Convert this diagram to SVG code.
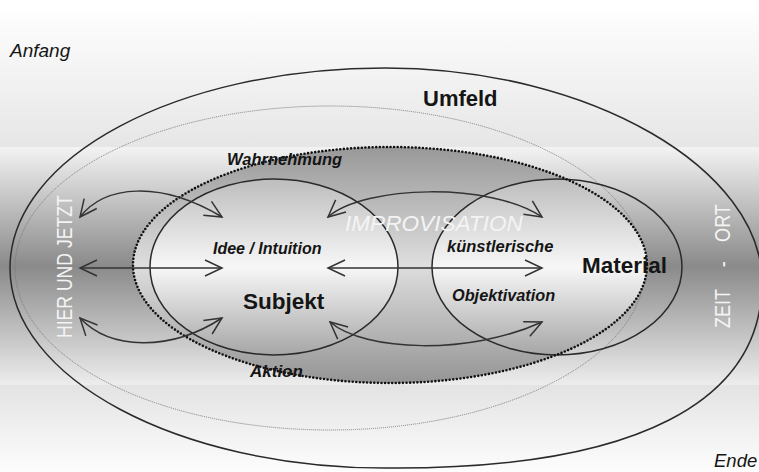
<svg xmlns="http://www.w3.org/2000/svg" width="759" height="472" viewBox="0 0 759 472">
<style>
.txt{font-family:"Liberation Sans",Arial,sans-serif;fill:#151515}
.bi{font-weight:bold;font-style:italic}
.b{font-weight:bold}
.i{font-style:italic}
.w{fill:#f4f4f4}
.line{fill:none;stroke:#2a2a2a;stroke-width:1.5}
.arr{fill:none;stroke:#333;stroke-width:1.5;marker-start:url(#ah);marker-end:url(#ah)}
</style>
<defs>
<linearGradient id="gTop" x1="0" y1="0" x2="0" y2="1"><stop offset="0" stop-color="#fefefe"/><stop offset="1" stop-color="#e6e6e6"/></linearGradient>
<linearGradient id="gMid" x1="0" y1="0" x2="0" y2="1"><stop offset="0" stop-color="#f3f3f3"/><stop offset="0.5" stop-color="#8a8a8a"/><stop offset="1" stop-color="#ededed"/></linearGradient>
<linearGradient id="gBot" x1="0" y1="0" x2="0" y2="1"><stop offset="0" stop-color="#e3e3e3"/><stop offset="1" stop-color="#fdfdfd"/></linearGradient>
<linearGradient id="gDot" x1="0" y1="0" x2="0" y2="1"><stop offset="0" stop-color="#989898"/><stop offset="0.5" stop-color="#dedede"/><stop offset="1" stop-color="#959595"/></linearGradient>
<linearGradient id="gIn" x1="0" y1="0" x2="0" y2="1"><stop offset="0" stop-color="#bdbdbd"/><stop offset="0.5" stop-color="#f7f7f7"/><stop offset="1" stop-color="#a6a6a6"/></linearGradient>
<clipPath id="cDot"><ellipse cx="390" cy="265" rx="257" ry="118"/></clipPath>
<marker id="ah" viewBox="-20 -10 22 20" refX="0" refY="0" markerWidth="22" markerHeight="20" markerUnits="userSpaceOnUse" orient="auto-start-reverse">
<path d="M-17,-8 L0,0 L-17,8" fill="none" stroke="#333" stroke-width="1.5"/>
</marker>
</defs>

<g id="background">
<rect x="0" y="0" width="759" height="472" fill="#ffffff"/>
<rect x="0" y="10" width="759" height="137" fill="url(#gTop)"/>
<rect x="0" y="147" width="759" height="238" fill="url(#gMid)"/>
<rect x="0" y="385" width="759" height="87" fill="url(#gBot)"/>
</g>

<g id="umfeld">
<path class="line" d="M10,268 C10,157 177,68 385,68 C592,68 762,170 762,282 C762,400 640,470 385,468 C178,468 10,378 10,268 Z"/>
<text class="txt b" x="423" y="106" font-size="22">Umfeld</text>
</g>

<g id="grenze">
<ellipse cx="330" cy="268" rx="315" ry="162" fill="none" stroke="#7a7a7a" stroke-width="1" stroke-dasharray="1 1"/>
</g>

<g id="improvisation">
<ellipse cx="390" cy="265" rx="257" ry="118" fill="url(#gDot)"/>
</g>

<g id="subjekt">
<ellipse cx="274" cy="267" rx="124" ry="88" fill="url(#gIn)" stroke="#2a2a2a" stroke-width="1.5"/>
<text class="txt bi" x="213" y="254" font-size="16">Idee / Intuition</text>
<text class="txt b" x="243" y="309" font-size="22.5">Subjekt</text>
</g>

<g id="material">
<ellipse cx="557" cy="267" rx="125" ry="88" fill="url(#gIn)" clip-path="url(#cDot)"/>
<ellipse cx="557" cy="267" rx="125" ry="88" fill="none" stroke="#2a2a2a" stroke-width="1.5"/>
<text class="txt b" x="582" y="273" font-size="22.5">Material</text>
</g>

<g id="improvisation-rand">
<ellipse cx="390" cy="265" rx="257" ry="118" fill="none" stroke="#111" stroke-width="2.6" stroke-linecap="round" stroke-dasharray="0 3.6"/>
<text class="txt bi" x="227" y="165" font-size="16.5">Wahrnehmung</text>
<text class="txt bi" x="250" y="377" font-size="17">Aktion</text>
<text class="txt i w" x="345" y="231" font-size="22.6">IMPROVISATION</text>
<text class="txt bi" x="447" y="252" font-size="16.5">künstlerische</text>
<text class="txt bi" x="452" y="301" font-size="16.3">Objektivation</text>
</g>

<g id="connectors">
<path class="arr" d="M80,217 C105,185 160,180 222,217"/>
<path class="arr" d="M80,268 L222,268"/>
<path class="arr" d="M80,318 C110,350 170,352 222,318"/>
<path class="arr" d="M328,217 C365,185 490,182 542,217"/>
<path class="arr" d="M328,268 L542,268"/>
<path class="arr" d="M330,322 C365,352 470,355 542,322"/>
</g>

<g id="hier-und-jetzt">
<text class="txt w" font-size="22" transform="translate(72,338) rotate(-90) scale(0.8,1)">HIER UND JETZT</text>
</g>

<g id="zeit-ort">
<text class="txt w" font-size="22" transform="translate(730,328) rotate(-90) scale(0.82,1)"><tspan x="0">ZEIT</tspan><tspan x="74">-</tspan><tspan x="105">ORT</tspan></text>
</g>

<g id="anfang"><text class="txt i" x="10" y="57" font-size="19">Anfang</text></g>
<g id="ende"><text class="txt i" x="714" y="467" font-size="18.5">Ende</text></g>
</svg>
